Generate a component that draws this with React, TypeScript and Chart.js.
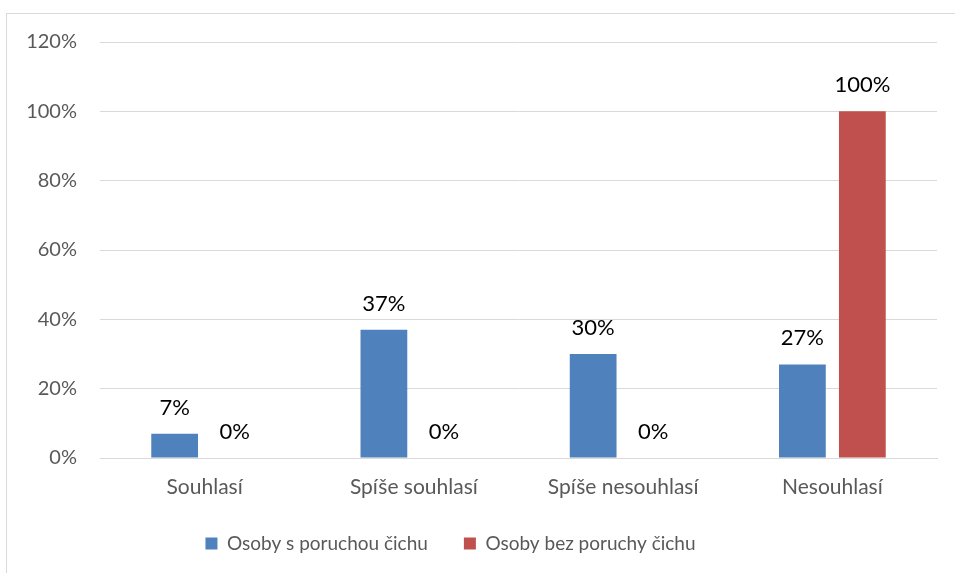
import React, { useEffect, useRef } from "react";
import { Chart, registerables } from "chart.js";

Chart.register(...registerables);

const categories = ["Souhlasí", "Spíše souhlasí", "Spíše nesouhlasí", "Nesouhlasí"];
const seriesNames = ["Osoby s poruchou čichu", "Osoby bez poruchy čichu"];
const withDisorder = [7, 37, 30, 27];
const withoutDisorder = [0, 0, 0, 100];
const seriesColors = ["#4f81bd", "#c0504d"];

const FONT = "Lato, 'Open Sans', sans-serif";

const dataLabelPlugin = {
  id: "dataLabels",
  afterDatasetsDraw(chart: any) {
    const ctx = chart.ctx;
    ctx.save();
    ctx.fillStyle = "#000000";
    ctx.font = `22px ${FONT}`;
    ctx.textAlign = "center";
    ctx.textBaseline = "alphabetic";
    chart.data.datasets.forEach((ds: any, di: number) => {
      const meta = chart.getDatasetMeta(di);
      meta.data.forEach((bar: any, i: number) => {
        ctx.fillText(`${ds.data[i]}%`, bar.x, bar.y - 19);
      });
    });
    ctx.restore();
  },
};

// Excel centres the legend a little left of the canvas centre
const legendShiftPlugin = {
  id: "legendShift",
  afterLayout(chart: any) {
    const l = chart.legend;
    if (l) {
      l.left -= 18;
      l.right -= 18;
    }
  },
};

export default function App() {
  const ref = useRef<HTMLCanvasElement | null>(null);
  useEffect(() => {
    if (!ref.current) return;
    const chart = new Chart(ref.current, {
      type: "bar",
      data: {
        labels: categories,
        datasets: [
          {
            label: seriesNames[0],
            data: withDisorder,
            backgroundColor: seriesColors[0],
            categoryPercentage: 0.573,
            barPercentage: 0.78,
          },
          {
            label: seriesNames[1],
            data: withoutDisorder,
            backgroundColor: seriesColors[1],
            categoryPercentage: 0.573,
            barPercentage: 0.78,
          },
        ],
      },
      options: {
        animation: false,
        responsive: false,
        layout: { padding: { top: 42, right: 18, left: 0, bottom: 10 } },
        plugins: {
          legend: {
            position: "bottom",
            labels: {
              boxWidth: 12,
              boxHeight: 12,
              padding: 36,
              color: "#595959",
              font: { family: FONT, size: 19 },
            },
          },
          tooltip: { enabled: false },
        },
        scales: {
          x: {
            afterFit: (s: any) => {
              s.height = 40;
            },
            grid: { display: false, drawTicks: false },
            border: { display: true, color: "#d9d9d9", width: 1 },
            ticks: { color: "#595959", font: { family: FONT, size: 21, lineHeight: 1 }, padding: 19 },
          },
          y: {
            min: 0,
            max: 120,
            afterFit: (s: any) => {
              s.width = 100;
            },
            grid: { color: "#d9d9d9", drawTicks: false, lineWidth: 1 },
            border: { display: false },
            ticks: {
              stepSize: 20,
              color: "#595959",
              font: { family: FONT, size: 20 },
              padding: 23,
              callback: (v: any) => `${v}%`,
            },
          },
        },
      },
      plugins: [dataLabelPlugin, legendShiftPlugin],
    });
    return () => chart.destroy();
  }, []);
  return (
    <div style={{ position: "fixed", left: 0, top: 0, width: 955, height: 573, background: "#fff" }}>
      <div
        style={{
          position: "absolute",
          left: 6,
          top: 13,
          width: 1000,
          height: 600,
          border: "1px solid #d9d9d9",
        }}
      />
      <canvas ref={ref} width={955} height={573} style={{ position: "absolute", left: 0, top: 0 }} />
    </div>
  );
}
